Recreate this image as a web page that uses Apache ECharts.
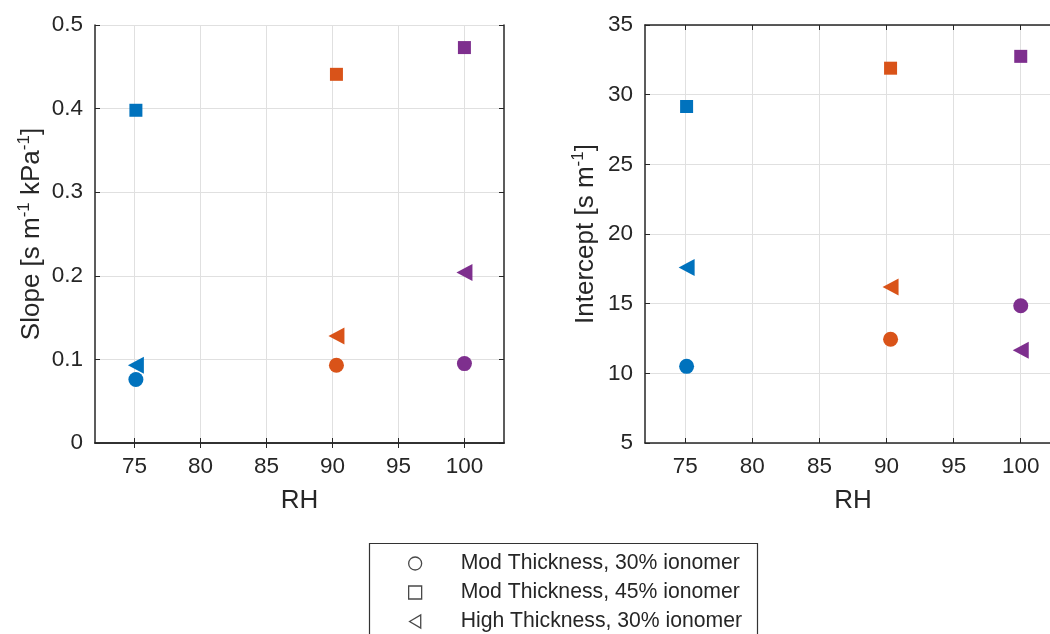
<!DOCTYPE html>
<html>
<head>
<meta charset="utf-8">
<script src="https://cdn.jsdelivr.net/npm/echarts@6/dist/echarts.min.js"></script>
<style>
  html, body { margin: 0; padding: 0; background: #fff; overflow: hidden; width: 1050px; height: 634px; }
  #chart { width: 1075px; height: 634px; }
</style>
</head>
<body>
<div id="chart"></div>
<script>
// ---- data ----
const RH = [75.1, 90.3, 100];
const pointColors = ['#0072BD', '#D95319', '#7E2F8E'];
const seriesNames = ['Mod Thickness, 30% ionomer', 'Mod Thickness, 45% ionomer', 'High Thickness, 30% ionomer'];
const slopeCircle = [0.076, 0.093, 0.095];
const slopeSquare = [0.398, 0.441, 0.473];
const slopeTriangle = [0.093, 0.128, 0.204];
const interceptCircle = [10.5, 12.45, 14.85];
const interceptSquare = [29.15, 31.9, 32.75];
const interceptTriangle = [17.6, 16.2, 11.65];
const xTicks = [75, 80, 85, 90, 95, 100];

// ---- styling ----
const FONT = '"Liberation Sans", Arial, Helvetica, sans-serif';
const AX = '#262626';
const GRIDLINE = '#e0e0e0';
const triPath = 'path://M0,8 L15,0 L15,16 Z';
const legendTriPath = 'path://M0,7 L12,0 L12,14 Z';
const symbols = ['circle', 'rect', triPath];
const symbolSizes = [15, 13, [16, 17]];

const chart = echarts.init(document.getElementById('chart'), null, { renderer: 'canvas' });

function xAxes(gridIndex) {
  const base = {
    gridIndex, type: 'value', min: 72, max: 103,
    axisLine: { show: true, lineStyle: { color: AX, width: 1.5 } },
    axisTick: { show: true, inside: true, length: 5, customValues: xTicks, lineStyle: { color: AX } }
  };
  return [
    Object.assign({}, base, {
      position: 'bottom',
      name: 'RH', nameLocation: 'middle', nameGap: 45,
      nameTextStyle: { fontSize: 26, color: AX, fontFamily: FONT },
      axisLabel: { show: true, customValues: xTicks, margin: 12, fontSize: 22.5, color: AX, fontFamily: FONT },
      splitLine: { show: true, lineStyle: { color: GRIDLINE, width: 1 } }
    }),
    Object.assign({}, base, {
      position: 'top',
      axisLabel: { show: false },
      splitLine: { show: false }
    })
  ];
}

function yAxes(gridIndex, min, max, interval, nameRich, nameGap) {
  const base = {
    gridIndex, type: 'value', min, max, interval,
    axisLine: { show: true, lineStyle: { color: AX, width: 1.5 } },
    axisTick: { show: true, inside: true, length: 5, lineStyle: { color: AX } }
  };
  return [
    Object.assign({}, base, {
      position: 'left',
      name: nameRich, nameLocation: 'middle', nameGap,
      nameTextStyle: {
        color: AX, fontFamily: FONT, fontSize: 26,
        rich: {
          n: { fontSize: 26, color: AX, fontFamily: FONT },
          s: { fontSize: 17, color: AX, fontFamily: FONT, padding: [0, 0, 14, 0] }
        }
      },
      axisLabel: { show: true, margin: 12, fontSize: 22.5, color: AX, fontFamily: FONT },
      splitLine: { show: true, lineStyle: { color: GRIDLINE, width: 1 } }
    }),
    Object.assign({}, base, {
      position: 'right',
      axisLabel: { show: false },
      splitLine: { show: false }
    })
  ];
}

function makeSeries(gridIdx, valueSets) {
  return valueSets.map((vals, k) => ({
    type: 'scatter',
    name: seriesNames[k],
    xAxisIndex: gridIdx * 2,
    yAxisIndex: gridIdx * 2,
    symbol: symbols[k],
    symbolSize: symbolSizes[k],
    z: 3,
    data: RH.map((x, i) => ({ value: [x, vals[i]], itemStyle: { color: pointColors[i], opacity: 1 } }))
  }));
}

const legendIcons = ['circle', 'rect', legendTriPath];
const legendItemStyle = { color: '#ffffff', borderColor: '#1a1a1a', borderWidth: 1.3 };

const option = {
  animation: false,
  backgroundColor: '#ffffff',
  grid: [
    { left: 95, top: 25, width: 409, height: 418, containLabel: false },
    { left: 645, top: 25, width: 416, height: 418, containLabel: false }
  ],
  xAxis: [].concat(xAxes(0), xAxes(1)),
  yAxis: [].concat(
    yAxes(0, 0, 0.5, 0.1, '{n|Slope [s m}{s|-1}{n| kPa}{s|-1}{n|]}', 48),
    yAxes(1, 5, 35, 5, '{n|Intercept [s m}{s|-1}{n|]}', 44)
  ),
  graphic: [{
    type: 'rect', silent: true, z: 0,
    shape: { x: 369.5, y: 543.5, width: 388, height: 120 },
    style: { fill: '#ffffff', stroke: '#333333', lineWidth: 1.2 }
  }],
  legend: {
    orient: 'vertical', left: 408, top: 553, height: 300,
    itemWidth: 13, itemHeight: 13, itemGap: 8,
    selectedMode: false, z: 10, padding: 0,
    textStyle: { fontSize: 21.2, color: AX, fontFamily: FONT, padding: [0, 0, 0, 34], lineHeight: 20 },
    data: seriesNames.map((n, k) => ({ name: n, icon: legendIcons[k], itemStyle: legendItemStyle }))
  },
  series: [].concat(
    makeSeries(0, [slopeCircle, slopeSquare, slopeTriangle]),
    makeSeries(1, [interceptCircle, interceptSquare, interceptTriangle])
  )
};

chart.setOption(option);
</script>
</body>
</html>
